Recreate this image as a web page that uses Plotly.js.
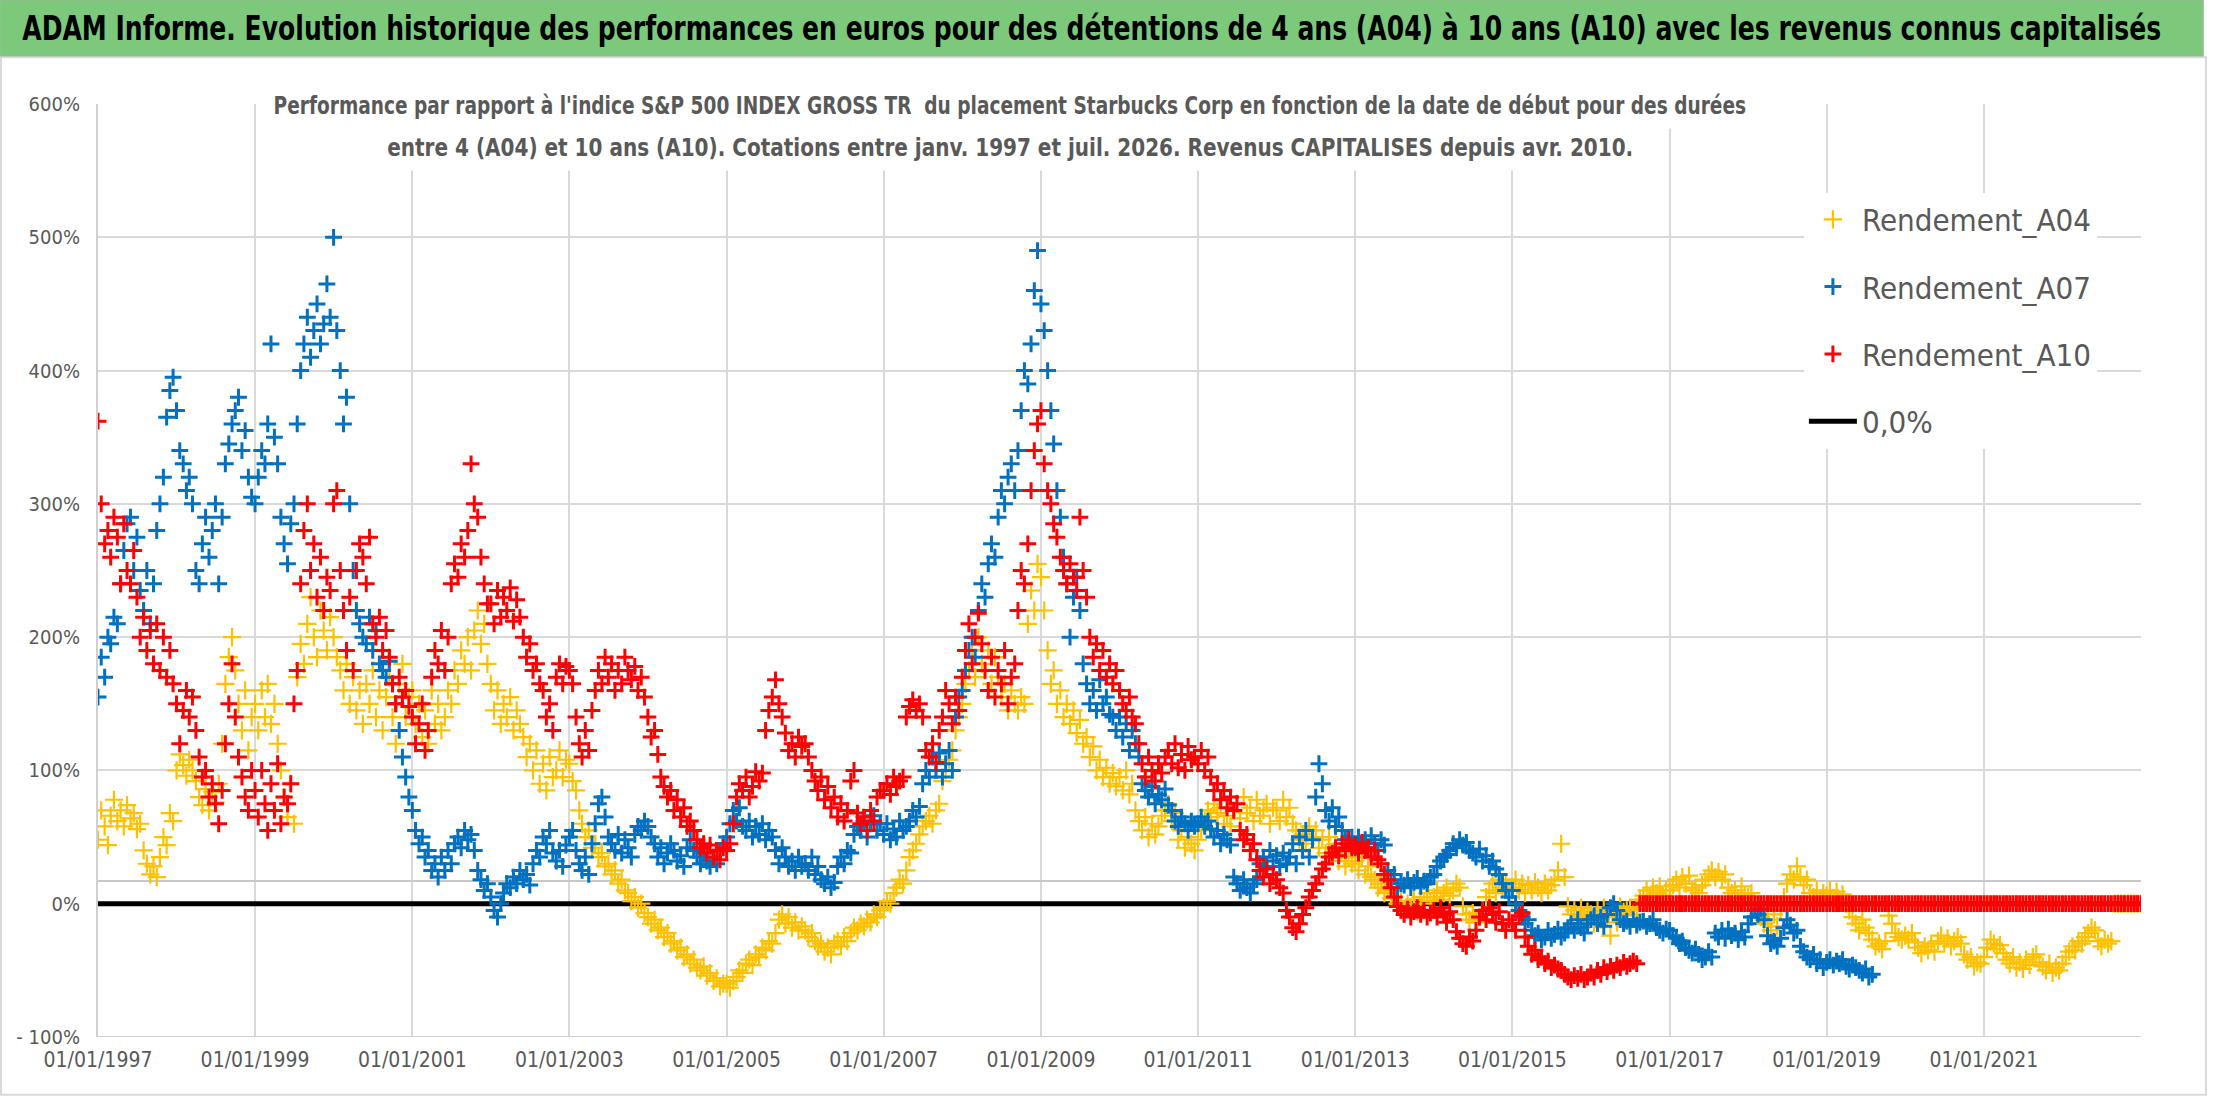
<!DOCTYPE html>
<html>
<head>
<meta charset="utf-8">
<script src="https://cdn.plot.ly/plotly-3.0.1.min.js"></script>
<style>
  html, body { margin: 0; padding: 0; background: #fff; }
  #chart { width: 2216px; height: 1102px; }
</style>
</head>
<body>
<div id="chart"></div>
<script>
// values, one point every half month, in percent
var a04 = [
  48, 70, 58, 44, 66, 78, 62, 70, 58, 74, 64, 68, 56, 60, 40, 30, 22, 28, 20, 35, 50, 44, 68, 62, // 1997
  100, 112, 104, 96, 108, 100, 92, 80, 74, 86, 70, 84, 76, 90, 120, 165, 185, 200, 175, 150, 130, 160, 115, 140,
  150, 130, 160, 140, 165, 135, 150, 120, 100, 80, 65, 90, 60, 170, 195, 180, 210, 230, 200, 185, 220, 205, 190, 215,
  200, 185, 175, 160, 180, 150, 170, 145, 160, 135, 165, 150, 175, 140, 160, 130, 155, 170, 140, 120, 165, 180, 140, 155, // 2000
  160, 135, 150, 125, 145, 120, 160, 135, 150, 130, 140, 160, 150, 175, 165, 190, 180, 200, 175, 205, 220, 195, 210, 180,
  165, 145, 160, 135, 150, 140, 155, 130, 145, 135, 125, 110, 120, 100, 115, 90, 105, 85, 110, 95, 100, 115, 95, 108,
  105, 92, 85, 70, 60, 50, 55, 42, 45, 35, 38, 28, 30, 22, 25, 15, 18, 10, 8, 2, 5, -3, 0, -7,
  -10, -15, -12, -20, -18, -25, -22, -30, -28, -35, -33, -40, -38, -45, -42, -48, -50, -47, -54, -52, -58, -56, -62, -60,
  -60, -63, -58, -55, -50, -52, -45, -42, -46, -38, -40, -33, -35, -28, -30, -22, -12, -8, -15, -10, -18, -14, -20, -17, // 2005
  -20, -25, -22, -28, -32, -30, -36, -33, -38, -30, -28, -32, -25, -28, -22, -18, -20, -15, -17, -12, -14, -8, -10, -5,
  -3, 2, 0, 8, 12, 18, 15, 25, 35, 40, 45, 52, 58, 62, 66, 60, 70, 75, 92, 100, 108, 115, 130, 140,
  150, 165, 175, 190, 170, 200, 180, 175, 190, 165, 185, 170, 155, 165, 145, 160, 150, 145, 155, 150, 210, 235, 220, 255,
  245, 220, 190, 165, 175, 150, 160, 140, 150, 135, 145, 128, 138, 120, 125, 110, 118, 100, 108, 95, 102, 90, 98, 88,
  95, 85, 100, 82, 90, 70, 62, 55, 65, 50, 60, 52, 58, 66, 70, 75, 62, 68, 48, 55, 42, 50, 45, 40, // 2010
  48, 55, 62, 70, 65, 75, 68, 72, 60, 66, 58, 70, 75, 64, 80, 68, 72, 62, 78, 66, 70, 75, 60, 72,
  70, 62, 78, 65, 72, 60, 55, 48, 52, 45, 58, 50, 55, 42, 48, 38, 50, 35, 45, 32, 40, 28, 35, 30,
  32, 25, 35, 22, 28, 20, 18, 12, 15, 8, 10, 4, 5, 0, 2, -5, 0, -3, 3, -6, 5, 0, 8, 2,
  5, 10, 3, 8, 12, 6, 10, 15, 12, -2, -8, -12, -7, -14, -10, -5, 5, 10, 15, 8, 18, 12, 16, 10,
  12, 18, 10, 15, 8, 14, 10, 16, 12, 8, 15, 10, 14, 18, 25, 45, 20, -2, -8, -5, -12, -3, -10, -6, // 2015
  -8, -15, -5, -12, -3, -10, -24, -8, -14, -2, -6, -5, -3, -8, -4, 3, 6, 10, 5, 12, 8, 13, 6, 10,
  10, 14, 18, 12, 20, 15, 21, 10, 12, 8, 14, 18, 22, 25, 20, 24, 18, 22, 12, 8, 10, 4, 13, 6,
  5, 8, 0, -5, -10, -15, -12, -20, -8, -17, -5, 5, 15, 22, 18, 28, 20, 14, 18, 8, 5, 10, 3, 8,
  6, 10, 4, 9, 3, 7, 0, -5, -10, -15, -20, -12, -18, -22, -27, -32, -30, -34, -28, -9, -15, -22, -25, -27,
  -24, -27, -22, -29, -33, -37, -32, -35, -30, -36, -28, -24, -30, -26, -32, -28, -25, -30, -38, -42, -40, -47, -44, -45, // 2020
  -40, -33, -27, -30, -34, -31, -37, -42, -45, -40, -48, -44, -49, -42, -46, -40, -38, -44, -47, -50, -45, -52, -48, -50,
  -45, -40, -36, -32, -35, -28, -30, -25, -22, -18, -20, -28, -32, -27, -30, -28, 0, 0, 0, 0, 0, 0, 0, 0,
  0
];

var a07 = [
  155, 185, 170, 200, 195, 215, 210, 240, 265, 285, 290, 250, 275, 235, 220, 250, 210, 240, 280, 300, 320, 365, 385, 395, // 1997
  370, 340, 330, 310, 320, 300, 250, 240, 270, 290, 260, 280, 300, 240, 290, 330, 345, 360, 370, 380, 340, 355, 320, 305,
  300, 320, 340, 330, 360, 420, 350, 330, 290, 270, 255, 285, 300, 360, 400, 420, 440, 410, 430, 450, 420, 435, 465, 440,
  500, 430, 400, 360, 380, 300, 250, 220, 210, 200, 195, 215, 190, 205, 180, 175, 170, 182, 165, 150, 130, 110, 95, 80, // 2000
  70, 55, 45, 50, 35, 40, 25, 30, 20, 35, 25, 40, 30, 45, 50, 42, 55, 48, 52, 40, 25, 18, 10, 15,
  5, -5, -10, 0, 8, 15, 12, 20, 15, 25, 18, 22, 14, 30, 40, 35, 50, 45, 55, 38, 32, 40, 28, 44,
  50, 55, 40, 30, 25, 35, 22, 45, 60, 75, 80, 65, 50, 45, 40, 52, 38, 48, 42, 35, 52, 58, 55, 62,
  58, 50, 45, 35, 42, 30, 38, 45, 40, 32, 36, 28, 42, 48, 40, 35, 30, 38, 32, 28, 35, 30, 40, 45,
  50, 60, 70, 62, 72, 58, 55, 62, 50, 58, 52, 60, 48, 55, 50, 40, 30, 42, 35, 28, 32, 25, 35, 28, // 2005
  30, 25, 35, 22, 28, 18, 15, 20, 12, 16, 28, 35, 30, 40, 38, 52, 58, 55, 62, 50, 60, 66, 55, 60,
  52, 60, 48, 56, 50, 62, 55, 58, 62, 70, 65, 73, 90, 100, 95, 110, 100, 113, 95, 105, 115, 100, 140, 155,
  160, 175, 190, 200, 185, 220, 240, 230, 255, 270, 260, 290, 310, 300, 320, 330, 310, 340, 370, 400, 390, 420, 460, 490,
  450, 430, 400, 370, 345, 310, 290, 260, 240, 200, 230, 245, 220, 180, 165, 150, 160, 145, 168, 150, 155, 142, 140, 130,
  140, 125, 135, 115, 130, 120, 110, 90, 85, 80, 88, 75, 82, 78, 86, 74, 70, 62, 58, 65, 60, 55, 62, 58, // 2010
  60, 65, 58, 62, 56, 50, 55, 45, 52, 48, 44, 20, 15, 10, 18, 12, 8, 15, 18, 30, 35, 28, 40, 32,
  36, 28, 38, 30, 35, 45, 30, 50, 40, 55, 35, 48, 80, 105, 90, 70, 62, 72, 58, 65, 55, 48, 45, 50,
  42, 50, 45, 48, 42, 51, 45, 40, 48, 44, 25, 18, 22, 12, 15, 14, 18, 12, 16, 19, 13, 17, 15, 20,
  22, 28, 32, 35, 37, 40, 45, 42, 48, 44, 46, 40, 38, 35, 41, 32, 36, 28, 32, 26, 22, 15, 10, 5,
  10, 0, -5, -10, -15, -12, -20, -24, -22, -27, -25, -20, -26, -23, -19, -25, -22, -18, -15, -20, -12, -18, -22, -15, // 2015
  -12, -9, -15, -10, -17, -8, -3, 0, -5, -12, -15, -13, -17, -12, -16, -14, -13, -17, -15, -12, -18, -20, -22, -19,
  -20, -24, -26, -30, -28, -33, -35, -37, -34, -38, -42, -40, -36, -40, -22, -25, -20, -26, -19, -24, -22, -27, -21, -25,
  -15, -10, -5, -8, -4, -12, -24, -30, -28, -32, -26, -18, -12, -16, -22, -20, -32, -36, -40, -42, -38, -45, -42, -48,
  -44, -42, -46, -43, -45, -42, -47, -49, -46, -48, -50, -52, -49, -55, -53
];

var a10 = [
  362, 300, 270, 280, 260, 290, 275, 240, 285, 250, 240, 265, 230, 200, 215, 190, 205, 180, 210, 175, 200, 170, 190, 165, // 1997
  150, 120, 145, 160, 140, 155, 130, 110, 95, 100, 80, 90, 75, 60, 85, 120, 150, 180, 140, 110, 95, 80, 70, 100,
  85, 65, 100, 75, 55, 90, 70, 105, 60, 80, 75, 90, 150, 175, 240, 280, 300, 250, 270, 230, 260, 220, 245, 235,
  300, 310, 250, 220, 190, 230, 175, 250, 270, 260, 240, 275, 210, 200, 215, 190, 205, 185, 165, 150, 170, 155, 160, 148, // 2000
  140, 120, 135, 150, 115, 130, 170, 190, 180, 205, 175, 200, 240, 255, 245, 270, 260, 280, 330, 300, 290, 260, 240, 225,
  225, 210, 235, 215, 230, 220, 237, 212, 228, 215, 200, 185, 195, 175, 180, 165, 160, 140, 150, 130, 170, 180, 165, 178,
  175, 165, 140, 120, 110, 130, 115, 145, 160, 175, 165, 185, 170, 180, 160, 175, 165, 185, 175, 168, 178, 160, 170, 155,
  140, 125, 130, 112, 95, 88, 80, 85, 70, 78, 65, 72, 58, 62, 55, 48, 42, 45, 38, 44, 35, 40, 33, 42,
  40, 45, 60, 80, 90, 85, 95, 80, 88, 99, 92, 98, 130, 145, 155, 168, 150, 140, 128, 115, 120, 110, 125, 118, // 2005
  120, 110, 100, 92, 85, 95, 78, 88, 72, 80, 65, 75, 62, 70, 92, 100, 68, 60, 65, 55, 70, 62, 80, 85,
  85, 90, 82, 95, 88, 92, 95, 140, 148, 153, 145, 150, 140, 115, 110, 120, 106, 130, 140, 160, 150, 135, 155, 145,
  170, 190, 210, 180, 200, 218, 195, 175, 160, 185, 155, 175, 165, 190, 150, 170, 180, 220, 250, 240, 270, 310, 340, 360,
  370, 330, 310, 300, 285, 275, 260, 250, 240, 255, 245, 235, 290, 250, 230, 200, 185, 195, 175, 190, 170, 180, 165, 175,
  160, 150, 145, 155, 140, 135, 120, 105, 95, 110, 100, 92, 105, 98, 110, 115, 105, 120, 102, 112, 100, 118, 108, 110, // 2010
  105, 115, 100, 110, 95, 85, 90, 78, 85, 72, 80, 70, 75, 55, 48, 52, 40, 45, 33, 25, 20, 26, 15, 22,
  18, 12, 8, -5, -10, -18, -21, -15, -8, -3, 5, 10, 15, 20, 26, 30, 35, 38, 42, 36, 45, 40, 48, 42,
  44, 38, 46, 40, 42, 35, 40, 33, 30, 22, 18, 12, 5, -2, -5, -8, -4, -10, -6, -3, -8, -5, -10, -7,
  -5, -10, -3, -8, -14, -6, -12, -21, -26, -30, -32, -25, -28, -20, -10, -5, -12, -3, -8, -14, -6, -15, -20, -12,
  -15, -20, -9, -7, -25, -32, -38, -35, -42, -40, -45, -43, -48, -46, -49, -50, -53, -55, -57, -54, -56, -53, -57, -55, // 2015
  -52, -55, -50, -53, -48, -51, -47, -50, -46, -48, -44, -47, -45, -43, -45, 0, 0, 0, 0, 0, 0, 0, 0, 0,
  0, 0, 0, 0, 0, 0, 0, 0, 0, 0, 0, 0, 0, 0, 0, 0, 0, 0, 0, 0, 0, 0, 0, 0,
  0, 0, 0, 0, 0, 0, 0, 0, 0, 0, 0, 0, 0, 0, 0, 0, 0, 0, 0, 0, 0, 0, 0, 0,
  0, 0, 0, 0, 0, 0, 0, 0, 0, 0, 0, 0, 0, 0, 0, 0, 0, 0, 0, 0, 0, 0, 0, 0,
  0, 0, 0, 0, 0, 0, 0, 0, 0, 0, 0, 0, 0, 0, 0, 0, 0, 0, 0, 0, 0, 0, 0, 0, // 2020
  0, 0, 0, 0, 0, 0, 0, 0, 0, 0, 0, 0, 0, 0, 0, 0, 0, 0, 0, 0, 0, 0, 0, 0,
  0, 0, 0, 0, 0, 0, 0, 0, 0, 0, 0, 0, 0, 0, 0, 0, 0, 0, 0, 0, 0, 0, 0, 0,
  0
];

var lineDates = ['1997-01-01', '2023-01-01'];
var zeroLine = [0, 0];
var refLine = [17, 17];

var xTickVals = ['1997-01-01', '1999-01-01', '2001-01-01', '2003-01-01', '2005-01-01', '2007-01-01',
                 '2009-01-01', '2011-01-01', '2013-01-01', '2015-01-01', '2017-01-01', '2019-01-01', '2021-01-01'];
var xTickText = ['01/01/1997', '01/01/1999', '01/01/2001', '01/01/2003', '01/01/2005', '01/01/2007',
                 '01/01/2009', '01/01/2011', '01/01/2013', '01/01/2015', '01/01/2017', '01/01/2019', '01/01/2021'];
var yTickVals = [-100, 0, 100, 200, 300, 400, 500, 600];
var yTickText = ['- 100%', '0%', '100%', '200%', '300%', '400%', '500%', '600%'];

// dates on the 1st and 16th of each month from Jan 1997
function halfMonths(n) {
  var out = [];
  for (var i = 0; i < n; i++) {
    var y = 1997 + Math.floor(i / 24);
    var m = Math.floor((i % 24) / 2) + 1;
    var d = (i % 2) ? 16 : 1;
    out.push(y + '-' + (m < 10 ? '0' : '') + m + '-' + (d < 10 ? '0' : '') + d);
  }
  return out;
}

var FONT = 'DejaVu Sans Condensed, Liberation Sans Narrow, sans-serif';
var GREY = '#595959';

function marks(name, vals, color, width, size, rank) {
  return {
    x: halfMonths(vals.length), y: vals, name: name, type: 'scatter', mode: 'markers',
    legendgroup: name, legendrank: rank,
    marker: { symbol: 'cross-thin', size: size, color: color, line: { color: color, width: width } },
    hoverinfo: 'x+y'
  };
}

var data = [
  { x: lineDates, y: refLine, type: 'scatter', mode: 'lines', showlegend: false,
    line: { color: '#C8C8C8', width: 2 }, hoverinfo: 'skip' },
  { x: lineDates, y: zeroLine, type: 'scatter', mode: 'lines', name: '0,0%', legendgroup: 'zero', legendrank: 4,
    line: { color: '#000000', width: 5 } },
  marks('Rendement_A04', a04, '#FFC000', 2.2, 13, 1),
  marks('Rendement_A07', a07, '#0070C0', 3, 12, 2),
  marks('Rendement_A10', a10, '#FF0000', 3, 12, 3)
];

var layout = {
  width: 2216, height: 1102,
  margin: { l: 98, r: 75, t: 104, b: 65 },
  paper_bgcolor: '#ffffff', plot_bgcolor: '#ffffff',
  font: { family: FONT, color: GREY, size: 20 },
  showlegend: true,
  legend: {
    x: 0.835, y: 0.905, xanchor: 'left', yanchor: 'top',
    bgcolor: '#ffffff', borderwidth: 0,
    font: { family: FONT, size: 31, color: GREY },
    tracegroupgap: 24, itemwidth: 48
  },
  xaxis: {
    type: 'date', range: ['1997-01-01', '2023-01-01'],
    tickvals: xTickVals, ticktext: xTickText,
    showgrid: true, gridcolor: '#D9D9D9', gridwidth: 2,
    showline: false, zeroline: false, ticks: '',
    ticklabelstandoff: 8,
    tickfont: { family: FONT, size: 21, color: GREY }
  },
  yaxis: {
    range: [-100, 600], tickvals: yTickVals, ticktext: yTickText,
    showgrid: true, gridcolor: '#D9D9D9', gridwidth: 2,
    showline: true, linecolor: '#D0D0D0', linewidth: 2, zeroline: false, ticks: '',
    ticklabelstandoff: 12,
    tickfont: { family: FONT, size: 20, color: GREY }
  },
  shapes: [
    // chart frame
    { type: 'rect', xref: 'paper', yref: 'paper', x0: -0.0475, x1: 1.0318, y0: -0.062, y1: 1.05,
      line: { color: '#D9D9D9', width: 2 }, fillcolor: 'rgba(0,0,0,0)', layer: 'below' },
    // bottom axis line at -100%
    { type: 'line', xref: 'paper', yref: 'y', x0: 0, x1: 1, y0: -100, y1: -100,
      line: { color: '#D0D0D0', width: 2 } },
    // green banner
    { type: 'rect', xref: 'paper', yref: 'paper', x0: -0.048, x1: 1.0305, y0: 1.0514, y1: 1.1115,
      line: { color: '#9FB89F', width: 1 }, fillcolor: '#7DC97C' }
  ],
  annotations: [
    { xref: 'paper', yref: 'paper', x: 0.4865, y: 1.0815, xanchor: 'center', yanchor: 'middle',
      showarrow: false,
      text: '<b>ADAM Informe. Evolution historique des performances en euros pour des détentions de 4 ans (A04) à 10 ans (A10) avec les revenus connus capitalisés</b>',
      font: { family: FONT, size: 34, color: '#000000' } },
    { xref: 'paper', yref: 'paper', x: 0.4464, y: 0.9979, xanchor: 'center', yanchor: 'middle',
      showarrow: false, bgcolor: '#ffffff', borderpad: 8,
      text: '<b>Performance par rapport à l\'indice S&amp;P 500 INDEX GROSS TR  du placement Starbucks Corp en fonction de la date de début pour des durées</b>',
      font: { family: FONT, size: 25, color: GREY } },
    { xref: 'paper', yref: 'paper', x: 0.4464, y: 0.9539, xanchor: 'center', yanchor: 'middle',
      showarrow: false, bgcolor: '#ffffff', borderpad: 8,
      text: '<b>entre 4 (A04) et 10 ans (A10). Cotations entre janv. 1997 et juil. 2026. Revenus CAPITALISES depuis avr. 2010.</b>',
      font: { family: FONT, size: 25, color: GREY } }
  ]
};

// the reference uses a narrow face; squeeze the title texts horizontally
var squeeze = [0.82, 0.825, 0.89];

Plotly.newPlot('chart', data, layout, { staticPlot: true }).then(function (gd) {
  var groups = gd.querySelectorAll('.annotation');
  groups.forEach(function (g, i) {
    var inner = g.querySelector('.annotation-text-g');
    if (!inner || squeeze[i] === undefined) return;
    inner.style.transformBox = 'fill-box';
    inner.style.transformOrigin = 'center';
    inner.style.transform = 'scaleX(' + squeeze[i] + ')';
  });
});
</script>
</body>
</html>
